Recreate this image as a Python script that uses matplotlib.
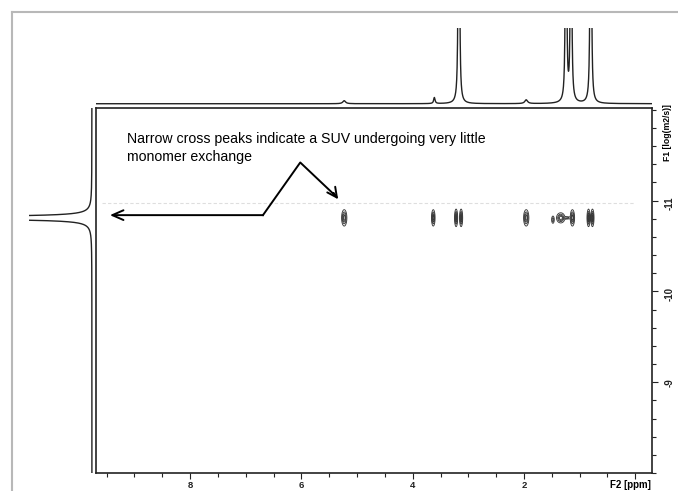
import numpy as np
import matplotlib.pyplot as plt
from matplotlib.lines import Line2D
from matplotlib.ticker import MultipleLocator

plt.rcParams['font.family'] = ['Liberation Sans', 'DejaVu Sans']

# 1D projection along F2 (chemical shift, ppm)
f2_ppm = [5.23, 3.61, 3.17, 1.96, 1.245, 1.155, 0.80]
f2_height = [0.04, 0.08, 20.0, 0.05, 9.0, 9.0, 20.0]
f2_width = [0.03, 0.015, 0.005, 0.03, 0.007, 0.007, 0.005]

# 1D projection along F1 (log diffusion coefficient)
f1_logd = [-10.81]
f1_height = [20.0]
f1_width = [0.006]

# DOSY cross peaks
cross_ppm = [5.23, 3.63, 3.22, 3.13, 1.96, 1.48, 1.34, 1.24, 1.13, 0.84, 0.77]
cross_logd = [-10.81, -10.81, -10.81, -10.81, -10.81, -10.79, -10.81, -10.81, -10.81, -10.81, -10.81]
cross_sx = [0.022, 0.015, 0.013, 0.013, 0.022, 0.013, 0.035, 0.05, 0.018, 0.013, 0.013]
cross_sy = [0.042, 0.042, 0.045, 0.045, 0.042, 0.022, 0.026, 0.007, 0.042, 0.045, 0.045]
cross_amp = [1.0, 1.0, 1.0, 1.0, 1.0, 0.5, 1.0, 0.5, 1.0, 1.0, 1.0]

note = "Narrow cross peaks indicate a SUV undergoing very little\nmonomer exchange"

W, H = 678, 491


def box(x0, y0, x1, y1):
    # pixel box -> figure fraction rect
    return [x0 / W, 1 - y1 / H, (x1 - x0) / W, (y1 - y0) / H]


def lorentz(x, centres, heights, widths):
    y = np.zeros_like(x)
    for c, h, w in zip(centres, heights, widths):
        y += h * w**2 / ((x - c)**2 + w**2)
    return y


fig = plt.figure(figsize=(W / 100, H / 100), dpi=100)

# light page frame
fig.add_artist(Line2D([12 / W, 12 / W], [0, 1 - 12 / H], color='#b8b8b8', lw=1.5))
fig.add_artist(Line2D([12 / W, 1], [1 - 12 / H, 1 - 12 / H], color='#b8b8b8', lw=1.5))

ax = fig.add_axes(box(96, 108, 652, 473))
ax_top = fig.add_axes(box(96, 28, 652, 106))
ax_left = fig.add_axes(box(29, 108, 96, 473))

xlim = (9.69, -0.30)
ylim = (-8.0, -12.02)

# 2D contour map
xx = np.linspace(xlim[1], xlim[0], 2400)
yy = np.linspace(ylim[1], ylim[0], 900)
X, Y = np.meshgrid(xx, yy)
Z = np.zeros_like(X)
for p, d, sx, sy, a in zip(cross_ppm, cross_logd, cross_sx, cross_sy, cross_amp):
    Z += a * np.exp(-((X - p)**2 / (2 * sx**2) + (Y - d)**2 / (2 * sy**2)))
ax.contour(X, Y, Z, levels=[0.1, 0.3, 0.55, 0.8], colors='#383838', linewidths=0.65)

ax.set_xlim(*xlim)
ax.set_ylim(*ylim)
ax.yaxis.tick_right()
ax.set_xticks([8, 6, 4, 2, 0])
ax.set_xticklabels(['8', '6', '4', '2', ''])
ax.xaxis.set_minor_locator(MultipleLocator(0.5))
ax.set_yticks([-11, -10, -9])
ax.set_yticklabels(['-11', '-10', '-9'])
ax.yaxis.set_minor_locator(MultipleLocator(0.2))
ax.tick_params(which='both', direction='out', width=0.8, colors='#222222')
ax.tick_params(which='major', length=4, labelsize=7)
ax.tick_params(which='minor', length=3)
ax.tick_params(axis='y', labelrotation=90, pad=5)
ax.tick_params(axis='x', pad=1.5, labelsize=6.8)
for lab in ax.get_xticklabels() + ax.get_yticklabels():
    lab.set_fontweight('bold')
for s in ax.spines.values():
    s.set_linewidth(1.2)
    s.set_color('#222222')

# faint scan line
ax.axhline(-10.97, color='#dedede', lw=0.8, ls=(0, (3, 2)), xmin=0.01, xmax=0.97)

# annotation
ax.text(9.13, -11.76, note, fontsize=10.2, va='top', ha='left', linespacing=1.4)
ax.plot([6.69, 6.02, 5.40], [-10.84, -11.42, -11.06], color='black', lw=1.4)
ax.annotate('', xy=(5.31, -10.99), xytext=(5.45, -11.11),
            arrowprops=dict(arrowstyle='->,head_length=0.7,head_width=0.35', color='black', lw=1.4))
ax.annotate('', xy=(9.44, -10.84), xytext=(6.69, -10.84),
            arrowprops=dict(arrowstyle='->,head_length=0.8,head_width=0.35', color='black', lw=1.4,
                            shrinkA=0, shrinkB=0))

# top projection
px_ = np.linspace(xlim[1], xlim[0], 8000)
ax_top.plot(px_, lorentz(px_, f2_ppm, f2_height, f2_width), color='#222222', lw=1.0)
ax_top.set_xlim(*xlim)
ax_top.set_ylim(-0.03, 1.0)
ax_top.axis('off')

# left projection
py_ = np.linspace(ylim[1], ylim[0], 8000)
ax_left.plot(lorentz(py_, f1_logd, f1_height, f1_width), py_, color='#222222', lw=1.0)
ax_left.set_xlim(1.0, -0.065)
ax_left.set_ylim(*ylim)
ax_left.axis('off')

fig.text(630 / W, 1 - 485 / H, 'F2 [ppm]', fontsize=7, fontweight='bold', ha='center', va='center')
fig.text(668 / W, 1 - 133 / H, 'F1 [log(m2/s)]', fontsize=6.2, fontweight='bold',
         rotation=90, ha='center', va='center')

fig.savefig('out.png', dpi=100)
